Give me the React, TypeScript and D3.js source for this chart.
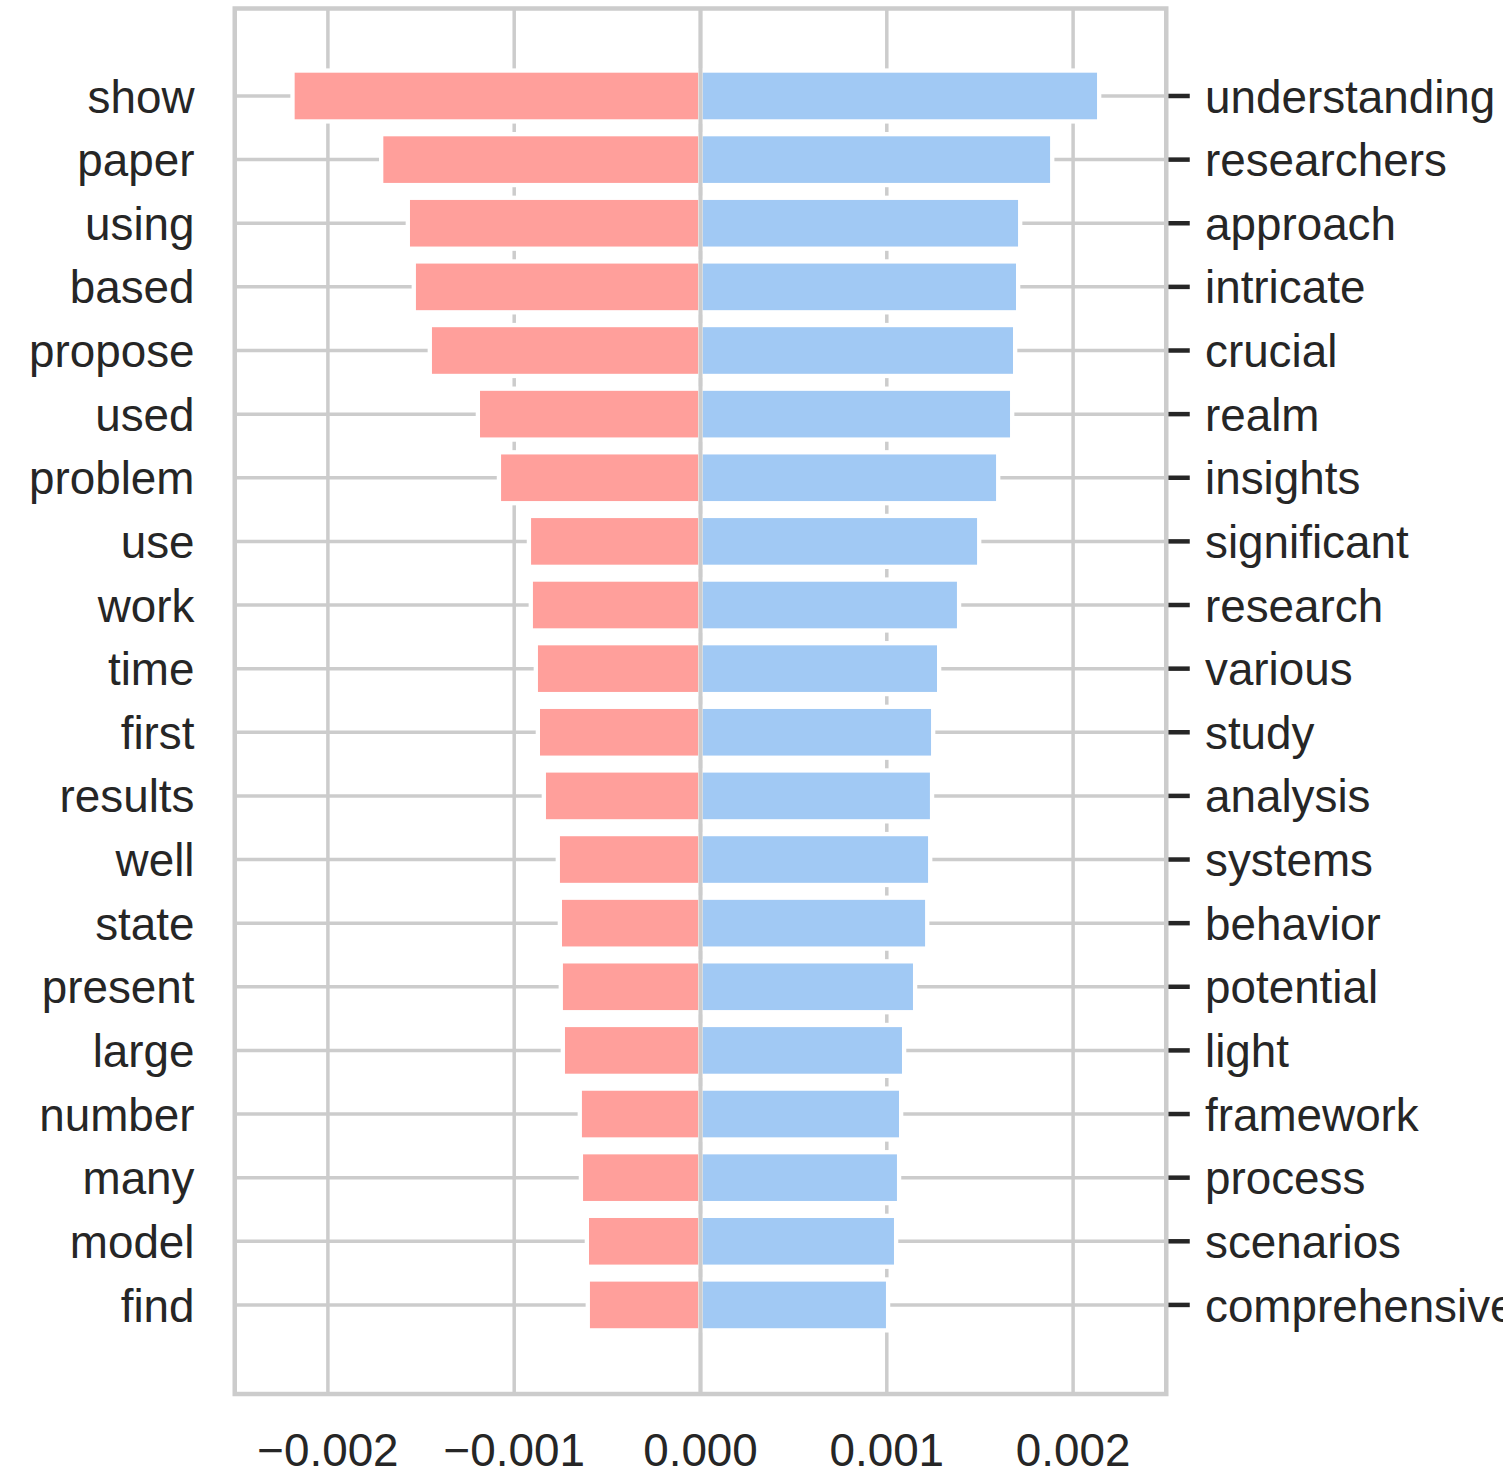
import React from "react";
import * as d3 from "d3";

// words with the most negative / positive weights, top to bottom
const negWords = ["show", "paper", "using", "based", "propose", "used", "problem", "use", "work", "time",
  "first", "results", "well", "state", "present", "large", "number", "many", "model", "find"];
const negValues = [-0.00219, -0.001714, -0.001571, -0.001539, -0.001453, -0.001195, -0.001082, -0.000921, -0.000911, -0.000884,
  -0.000873, -0.000841, -0.000766, -0.000755, -0.00075, -0.000739, -0.000648, -0.000642, -0.00061, -0.000605];

const posWords = ["understanding", "researchers", "approach", "intricate", "crucial", "realm", "insights", "significant", "research", "various",
  "study", "analysis", "systems", "behavior", "potential", "light", "framework", "process", "scenarios", "comprehensive"];
const posValues = [0.00214, 0.001888, 0.001716, 0.001705, 0.001689, 0.001673, 0.001598, 0.001496, 0.001388, 0.001281,
  0.001249, 0.001243, 0.001233, 0.001217, 0.001152, 0.001093, 0.001077, 0.001066, 0.00105, 0.001007];

const xTicks = [-0.002, -0.001, 0, 0.001, 0.002];

const W = 1503, H = 1479;
const FONT = "'Liberation Sans', Arial, sans-serif";
const TEXT = "#262626";
const GRID = "#cccccc";
const FS = 45.8;

export default function App() {
  const left = 234.75, right = 1166.25, top = 8.5, bottom = 1394;

  const x = d3.scaleLinear().domain([-0.0025, 0.0025]).range([left, right]);
  const y = d3.scaleLinear().domain([-1.375, 20.4]).range([top, bottom]);
  const barH = y(0.8) - y(0);
  const fmt = d3.format(".3f");
  const rows = d3.range(negWords.length);

  return (
    <svg width={W} height={H} style={{ position: "absolute", left: 0, top: 0, background: "#fff" }}
      fontFamily={FONT}>
      <rect x={0} y={0} width={W} height={H} fill="#fff" />

      {/* grid */}
      {xTicks.map(t => (
        <line key={"gx" + t} x1={x(t)} x2={x(t)} y1={top} y2={bottom} stroke={GRID} strokeWidth={3.5} />
      ))}
      {rows.map(i => (
        <line key={"gy" + i} x1={left} x2={right} y1={y(i)} y2={y(i)} stroke={GRID} strokeWidth={3.5} />
      ))}

      {/* bars */}
      {rows.map(i => (
        <rect key={"n" + i} x={x(negValues[i])} width={x(0) - x(negValues[i])}
          y={y(i) - barH / 2} height={barH} fill="#FF9F9B" stroke="#fff" strokeWidth={4.3} />
      ))}
      {rows.map(i => (
        <rect key={"p" + i} x={x(0)} width={x(posValues[i]) - x(0)}
          y={y(i) - barH / 2} height={barH} fill="#A1C9F4" stroke="#fff" strokeWidth={4.3} />
      ))}

      {/* zero line */}
      <line x1={x(0)} x2={x(0)} y1={top} y2={bottom} stroke={GRID} strokeWidth={4} />

      {/* right ticks */}
      {rows.map(i => (
        <line key={"rt" + i} x1={right} x2={right + 23.5} y1={y(i)} y2={y(i)} stroke={TEXT} strokeWidth={4.5} />
      ))}

      {/* spines */}
      <rect x={left} y={top} width={right - left} height={bottom - top} fill="none" stroke={GRID} strokeWidth={4.5} />

      {/* labels */}
      {rows.map(i => (
        <text key={"ln" + i} x={194.5} y={y(i) + 16.6} textAnchor="end" fontSize={FS} fill={TEXT}>{negWords[i]}</text>
      ))}
      {rows.map(i => (
        <text key={"lp" + i} x={1205} y={y(i) + 16.6} textAnchor="start" fontSize={FS} fill={TEXT}>{posWords[i]}</text>
      ))}
      {xTicks.map(t => (
        <text key={"xt" + t} x={x(t)} y={1465.5} textAnchor="middle" fontSize={FS} fill={TEXT}>{fmt(t)}</text>
      ))}
    </svg>
  );
}
